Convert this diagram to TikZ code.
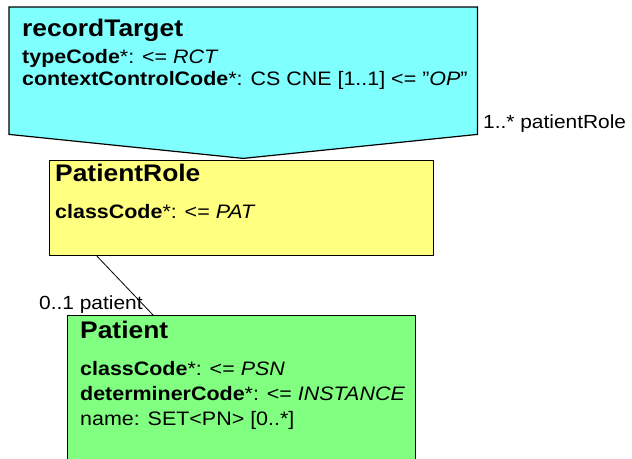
\documentclass[tikz,border=0pt]{standalone}
\usepackage{fontspec}
\setmainfont{Liberation Sans}[FakeStretch=1.1]
\usetikzlibrary{positioning, calc}
\definecolor{actcyan}{HTML}{80FFFF}
\definecolor{roleyellow}{HTML}{FFFF80}
\definecolor{entitygreen}{HTML}{80FF80}
\tikzset{
    x=1pt, y=-1pt, % one unit is one pixel of the picture, y runs downwards
    classbox/.style={draw, line width=1.2pt, inner sep=0pt, anchor=north west}, % the class boxes
    title/.style={font=\fontsize{24}{28}\selectfont\bfseries, inner sep=0pt, anchor=base west}, % class names
    attr/.style={font=\fontsize{19.5}{22}\selectfont, inner sep=0pt, anchor=base west}, % attribute lines
    role/.style={font=\fontsize{19}{22}\selectfont, inner sep=0pt, anchor=base west}, % association ends
    assoc/.style={line width=0.8pt}, % association line
}

\begin{document}
\begin{tikzpicture}
    \useasboundingbox (0,0) rectangle (632,458);
    \node[inner sep=0pt, anchor=north west, minimum width=468pt, minimum height=127pt] (rt) at (9,7) {};
    \filldraw[fill=actcyan, line width=1.2pt] (rt.north west) -- (rt.north east) -- (rt.south east)
        -- ($(rt.south)+(0,24)$) -- (rt.south west) -- cycle;
    \node[classbox, fill=roleyellow, minimum width=384pt, minimum height=95pt] (pr) at (49,160) {};
    \node[classbox, fill=entitygreen, minimum width=348pt, minimum height=170pt] (pt) at (67,315) {};
    \draw[assoc] ($(pr.south west)+(48,0)$) -- ($(pt.north west)+(86,0)$);
    % recordTarget
    \node[title] (rtname) at (22,36.7) {recordTarget};
    \node[attr] (rttype) at (22,63.3) {\textbf{typeCode}*: <= \textit{RCT}};
    \node[attr] (rtctx) at (22,85.5) {\textbf{contextControlCode}*: CS CNE [1..1] <= \symbol{34}\textit{OP}\symbol{34}};
    % PatientRole
    \node[title] (prname) at (55,181.7) {PatientRole};
    \node[attr] (prclass) at (55,218.3) {\textbf{classCode}*: <= \textit{PAT}};
    % Patient
    \node[title] (ptname) at (80,338.3) {Patient};
    \node[attr] (ptclass) at (80,375) {\textbf{classCode}*: <= \textit{PSN}};
    \node[attr] (ptdet) at (80,400) {\textbf{determinerCode}*: <= \textit{INSTANCE}};
    \node[attr] (ptnamea) at (80,425) {name: SET<PN> [0..*]};
    % association ends
    \node[role] (prrole) at (483,128) {1..* patientRole};
    \node[role] (ptrole) at (39,309) {0..1 patient};
\end{tikzpicture}
\end{document}
